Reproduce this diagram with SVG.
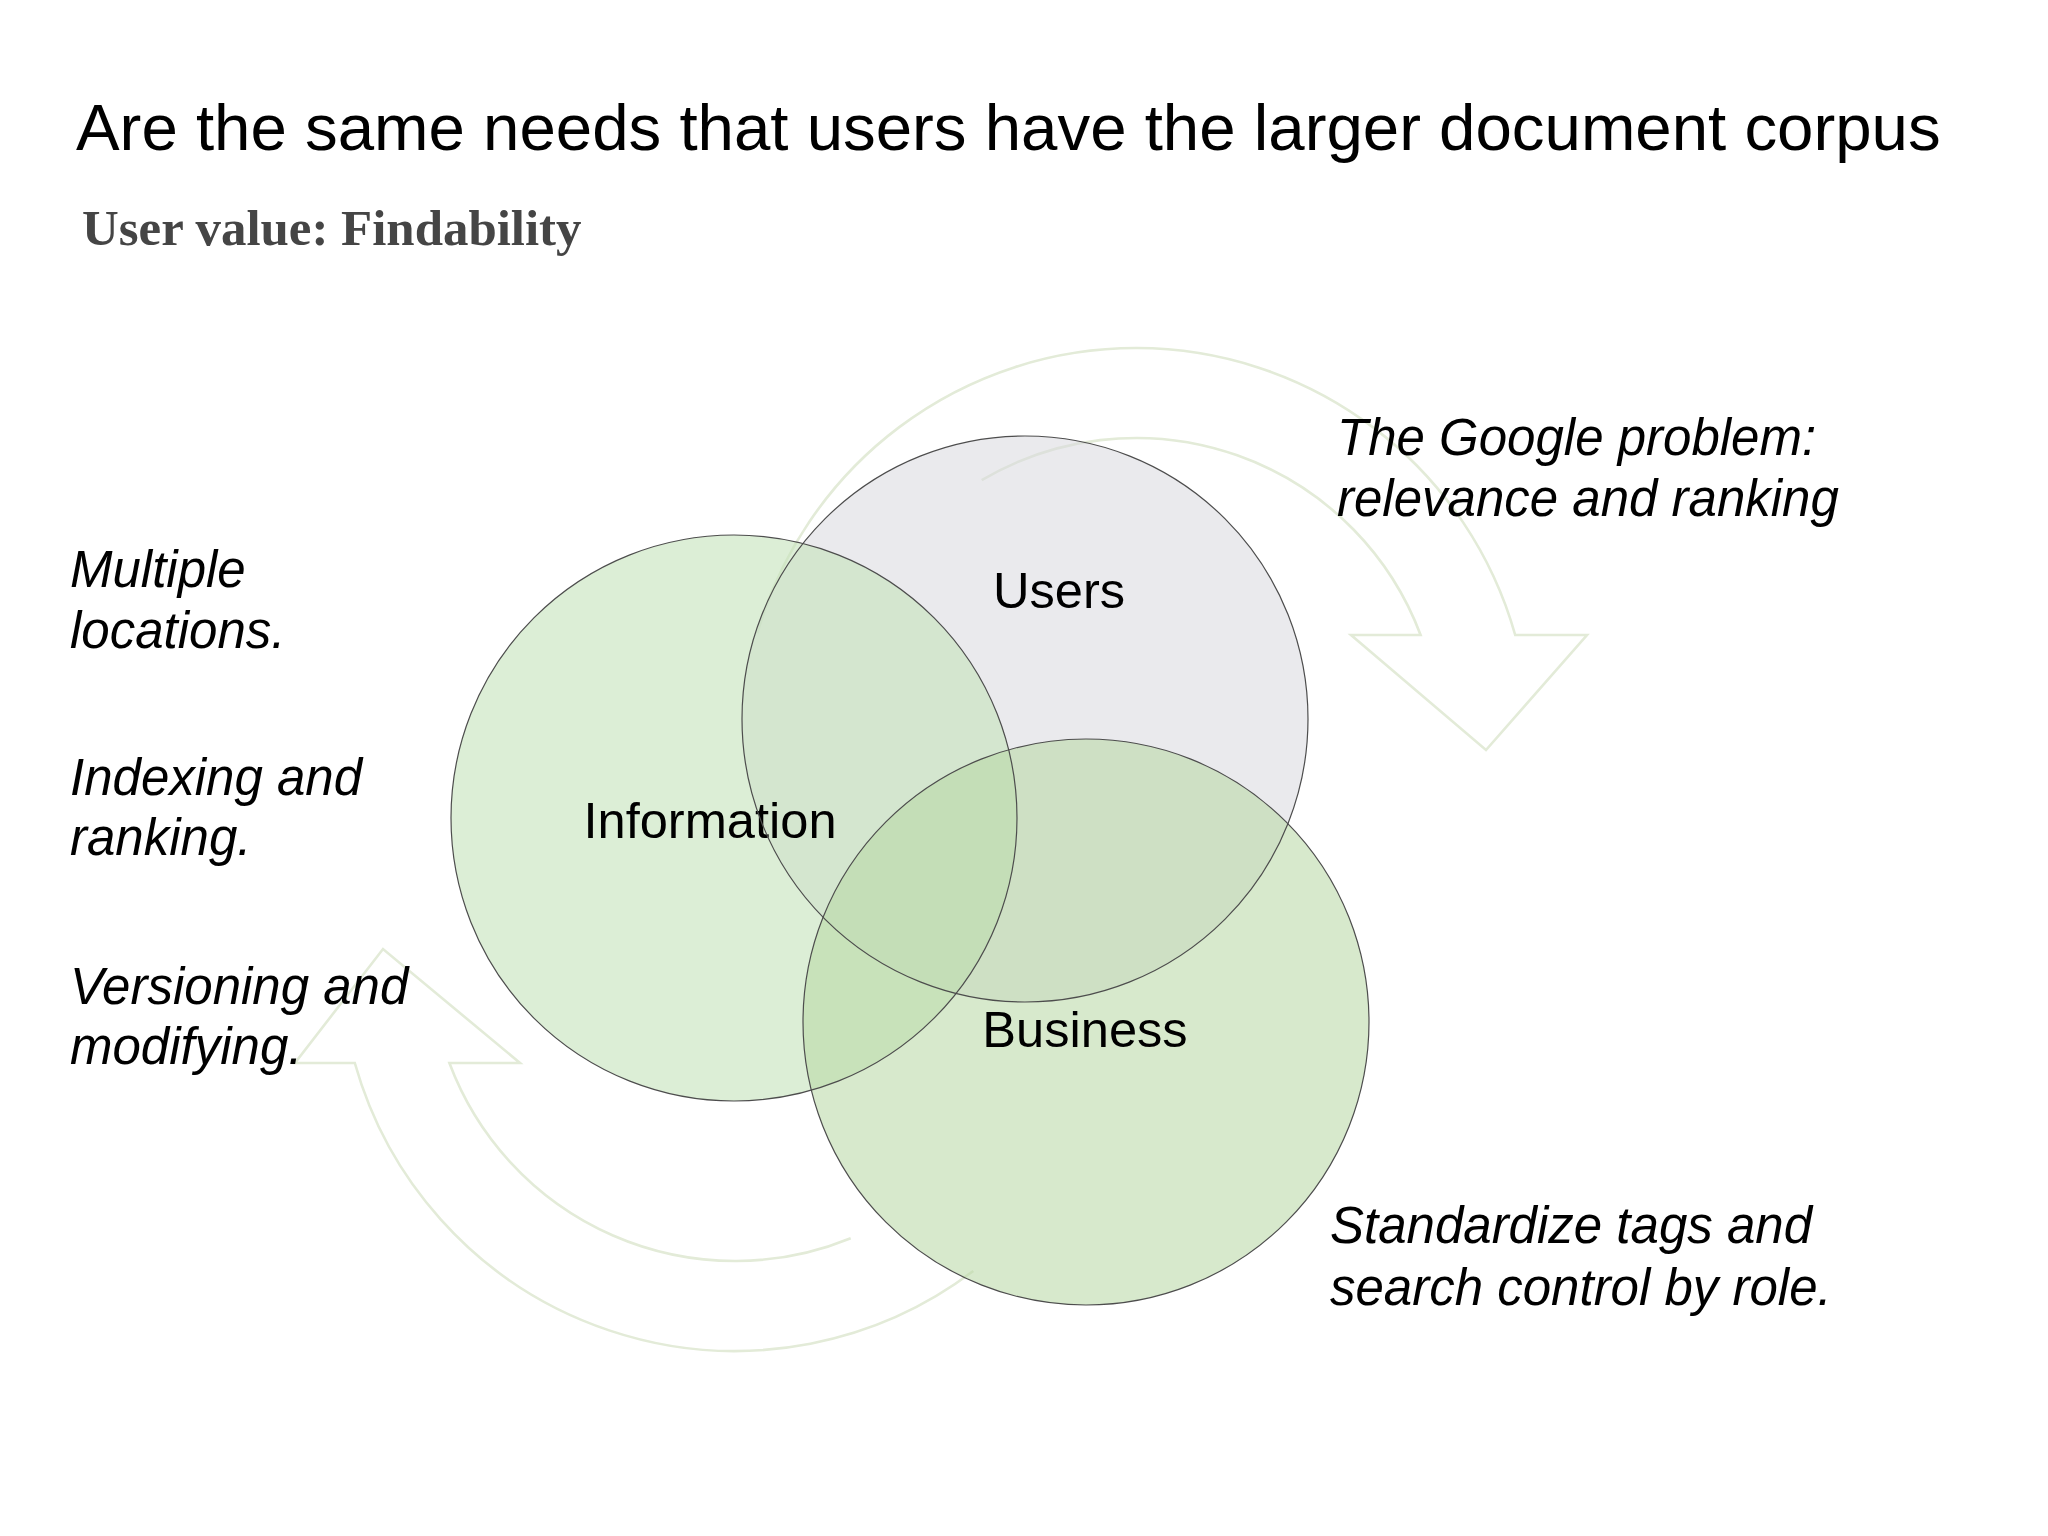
<svg xmlns="http://www.w3.org/2000/svg" xmlns:xlink="http://www.w3.org/1999/xlink" width="2048" height="1536" viewBox="0 0 2048 1536">
  <style>
    .title { font-family: "Liberation Sans", Arial, sans-serif; font-size: 65.4px; fill: #000; }
    .subtitle { font-family: "Liberation Serif", "Times New Roman", serif; font-weight: bold; font-size: 50.9px; fill: #454545; }
    .label { font-family: "Liberation Sans", Arial, sans-serif; font-size: 50.6px; fill: #000; }
    .note { font-family: "Liberation Sans", Arial, sans-serif; font-style: italic; font-size: 51px; fill: #000; }
    .arrow { fill: none; stroke: #e3ebd8; stroke-width: 2.6; stroke-linejoin: miter; }
    .fill-users { fill: #d9d8de; fill-opacity: 0.55; }
    .fill-info { fill: #c5e3bb; fill-opacity: 0.6; }
    .fill-business { fill: #b8d9a5; fill-opacity: 0.57; }
    .outline { fill: none; stroke: #4d4d4d; stroke-width: 1.2; }
  </style>
  <defs>
    <circle id="c-users" cx="1025" cy="719" r="283"/>
    <circle id="c-info" cx="734" cy="818" r="283"/>
    <circle id="c-business" cx="1086" cy="1022" r="283"/>
  </defs>

  <rect x="0" y="0" width="2048" height="1536" fill="#ffffff"/>

  <text class="title" x="76" y="150">Are the same needs that users have the larger document corpus</text>
  <text class="subtitle" x="82" y="245">User value: Findability</text>

  <g id="connectors">
    <path id="arrow-top-right" class="arrow" d="M 757.3,633.4 A 394 394 0 0 1 1515.2,635 L 1587,635 L 1486,750 L 1351,635 L 1420.6,635 A 304 304 0 0 0 981.7,480.1"/>
    <path id="arrow-bottom-left" class="arrow" d="M 973.3,1271 A 395 395 0 0 1 354.8,1063 L 295,1063 L 383,949 L 520,1063 L 449.4,1063 A 305 305 0 0 0 850.7,1238.2"/>
  </g>

  <g id="node-users">
    <use xlink:href="#c-users" href="#c-users" class="fill-users"/>
    <text class="label" x="1059" y="608" text-anchor="middle">Users</text>
  </g>
  <g id="node-information">
    <use xlink:href="#c-info" href="#c-info" class="fill-info"/>
    <text class="label" x="710" y="838" text-anchor="middle">Information</text>
  </g>
  <g id="node-business">
    <use xlink:href="#c-business" href="#c-business" class="fill-business"/>
    <text class="label" x="1085" y="1047" text-anchor="middle">Business</text>
  </g>

  <g id="outlines">
    <use xlink:href="#c-users" href="#c-users" class="outline"/>
    <use xlink:href="#c-info" href="#c-info" class="outline"/>
    <use xlink:href="#c-business" href="#c-business" class="outline"/>
  </g>

  <g id="notes-left">
    <text class="note" x="70" y="587">Multiple</text>
    <text class="note" x="70" y="648">locations.</text>
    <text class="note" x="70" y="795">Indexing and</text>
    <text class="note" x="70" y="855">ranking.</text>
    <text class="note" x="70" y="1004">Versioning and</text>
    <text class="note" x="70" y="1064">modifying.</text>
  </g>

  <g id="notes-right">
    <text class="note" x="1337" y="455">The Google problem:</text>
    <text class="note" x="1337" y="516">relevance and ranking</text>
    <text class="note" x="1330" y="1243">Standardize tags and</text>
    <text class="note" x="1330" y="1305">search control by role.</text>
  </g>
</svg>
